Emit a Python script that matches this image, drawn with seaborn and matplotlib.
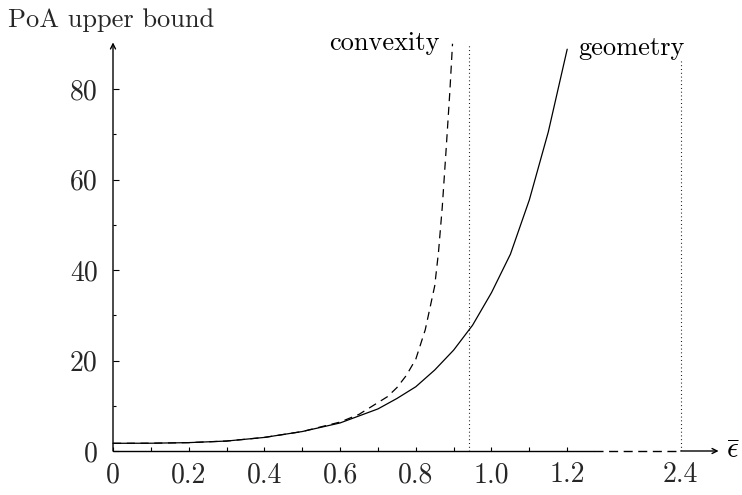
import numpy as np
import pandas as pd
import matplotlib
matplotlib.use("Agg")
import matplotlib.pyplot as plt
import seaborn as sns
from matplotlib.ticker import FixedLocator

# ---- data ----
geometry_x = [0, 0.1, 0.2, 0.3, 0.4, 0.5, 0.6, 0.7, 0.75, 0.8, 0.85, 0.9, 0.95, 1.0, 1.05, 1.1, 1.15, 1.2]
geometry_y = [1.7, 1.72, 1.85, 2.2, 3.0, 4.3, 6.2, 9.3, 11.6, 14.2, 17.9, 22.3, 27.8, 35.0, 43.5, 55.5, 70.5, 88.8]

convexity_x = [0, 0.1, 0.2, 0.3, 0.4, 0.5, 0.6, 0.65, 0.7, 0.725, 0.75, 0.775, 0.8, 0.825, 0.85, 0.86, 0.87, 0.88, 0.89, 0.897]
convexity_y = [1.7, 1.72, 1.85, 2.2, 3.0, 4.3, 6.4, 8.1, 10.7, 12.0, 14.0, 16.7, 20.3, 26.8, 36.5, 44.0, 54.0, 66.5, 79.5, 90.0]

vline_x = [0.94, 2.4]
xtick_vals = [0, 0.2, 0.4, 0.6, 0.8, 1.0, 1.2, 2.4]
xtick_labels = ["0", "0.2", "0.4", "0.6", "0.8", "1.0", "1.2", "2.4"]
xminor_vals = [0.1, 0.3, 0.5, 0.7, 0.9, 1.1]
ytick_vals = [0, 20, 40, 60, 80]
ytick_labels = ["0", "20", "40", "60", "80"]
yminor_vals = [10, 30, 50, 70]

sns.set_theme(style="white")
plt.rcParams["font.family"] = ["cmr10", "DejaVu Serif"]
plt.rcParams["mathtext.fontset"] = "cm"
plt.rcParams["axes.unicode_minus"] = False
plt.rcParams["axes.formatter.use_mathtext"] = True

fig = plt.figure(figsize=(7.42, 4.95), dpi=100)
ax = fig.add_axes([113 / 742, 44 / 495, 605.6 / 742, 409.5 / 495])


def fwd(x):
    x = np.asarray(x, dtype=float)
    return np.where(x <= 1.3, x, np.where(x >= 2.3, x - 0.9, 1.3 + (x - 1.3) * 0.1))


def inv(u):
    u = np.asarray(u, dtype=float)
    return np.where(u <= 1.3, u, np.where(u >= 1.4, u + 0.9, 1.3 + (u - 1.3) * 10))


ax.set_xscale("function", functions=(fwd, inv))
ax.set_xlim(0, 2.5)
ax.set_ylim(0, 90.5)

df_g = pd.DataFrame({"x": geometry_x, "y": geometry_y})
df_c = pd.DataFrame({"x": convexity_x, "y": convexity_y})
sns.lineplot(data=df_g, x="x", y="y", ax=ax, color="black", lw=0.9, sort=False, clip_on=False)
sns.lineplot(data=df_c, x="x", y="y", ax=ax, color="black", lw=0.9, sort=False,
             linestyle=(0, (6.5, 4.5)), clip_on=False)

for vx in vline_x:
    ax.plot([vx, vx], [0, 90], color="black", lw=0.8, linestyle=(0, (0.8, 2.6)), zorder=1)

for s in ax.spines.values():
    s.set_visible(False)

# axis lines
ax.plot([0, 1.27], [0, 0], color="black", lw=1.0, clip_on=False, zorder=3)
ax.plot([1.27, 2.4], [0, 0], color="black", lw=1.0, linestyle=(0, (6.5, 4.0)), clip_on=False, zorder=3)
ax.annotate("", xy=(2.5, 0), xytext=(2.4, 0),
            arrowprops=dict(arrowstyle="->", lw=1.0, color="black", mutation_scale=9,
                            shrinkA=0, shrinkB=0), annotation_clip=False)
ax.annotate("", xy=(0, 90.3), xytext=(0, 0),
            arrowprops=dict(arrowstyle="->", lw=1.0, color="black", mutation_scale=9,
                            shrinkA=0, shrinkB=0), annotation_clip=False)

ax.xaxis.set_major_locator(FixedLocator(xtick_vals))
ax.set_xticklabels(xtick_labels)
ax.xaxis.set_minor_locator(FixedLocator(xminor_vals))
ax.yaxis.set_major_locator(FixedLocator(ytick_vals))
ax.set_yticklabels(ytick_labels)
ax.yaxis.set_minor_locator(FixedLocator(yminor_vals))

ax.tick_params(axis="x", which="both", direction="in", length=2.6, width=0.8,
               color="black", labelsize=20, pad=8, bottom=True)
ax.tick_params(axis="y", which="major", direction="in", length=4.5, width=0.8,
               color="black", labelsize=20, pad=11, left=True)
ax.tick_params(axis="y", which="minor", direction="in", length=2.4, width=0.8,
               color="black", left=True)
ax.xaxis.get_major_ticks()[-1].tick1line.set_visible(False)
ax.set_xlabel("")
ax.set_ylabel("")

ax.text(0.864, 88.6, "convexity", ha="right", va="baseline", fontsize=19, color="black")
ax.text(1.2285, 87.5, "geometry", ha="left", va="baseline", fontsize=19, color="black",
        bbox=dict(facecolor="white", edgecolor="none", pad=0.5), zorder=5)
ax.text(2.52, 0, r"$\bar{\epsilon}$", ha="left", va="center", fontsize=21,
        color="black", clip_on=False)
fig.text(8 / 742, 1 - 27 / 495, "PoA upper bound", ha="left", va="baseline", fontsize=19)

fig.savefig("out.png", dpi=100, facecolor="white")
